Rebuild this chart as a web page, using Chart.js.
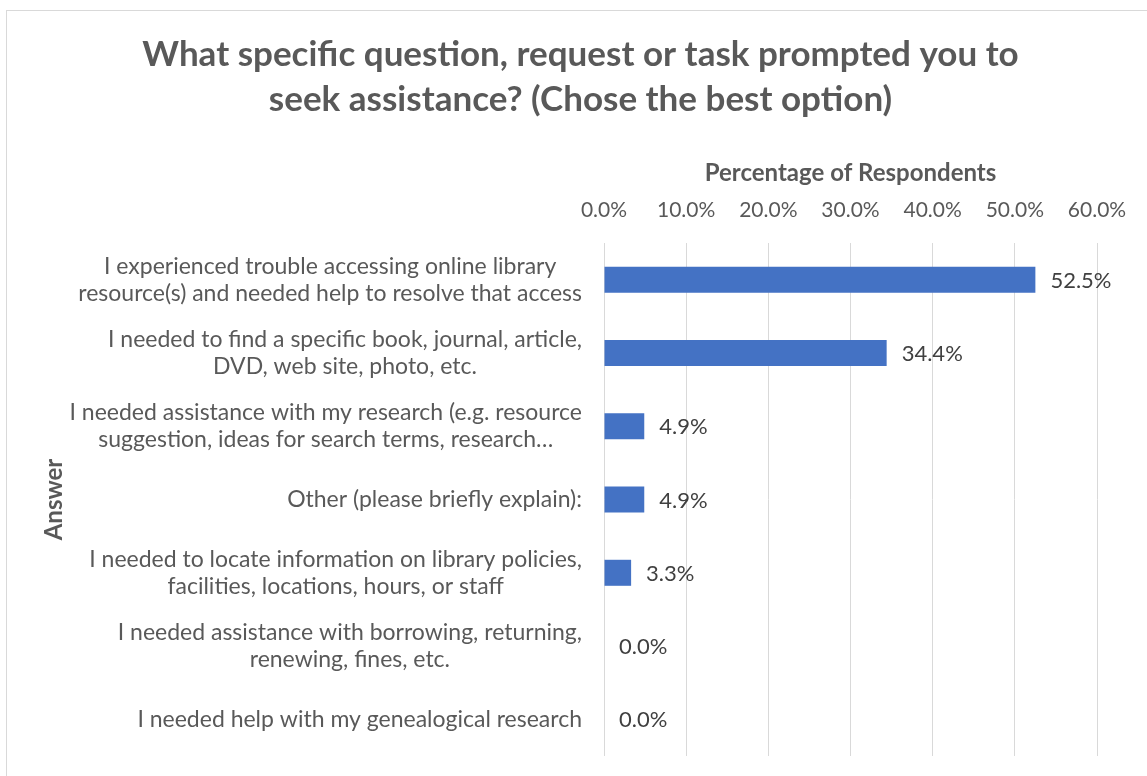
<!DOCTYPE html>
<html>
<head>
<meta charset="utf-8">
<title>Assistance survey</title>
<script src="https://cdn.jsdelivr.net/npm/chart.js@4.4.1/dist/chart.umd.min.js"></script>
<style>
  html, body { margin: 0; padding: 0; background: #fff; overflow: hidden; }
  #frame { position: absolute; left: 6px; top: 10px; width: 1147px; height: 780px; border: 1px solid #d9d9d9; }
  canvas { display: block; }
</style>
</head>
<body>
<div id="frame"><canvas id="chart" width="1147" height="780"></canvas></div>
<script>
// survey answers, top to bottom (multi-line labels)
const answers = [
  ["I experienced trouble accessing online library", "resource(s) and needed help to resolve that access"],
  ["I needed to find a specific book, journal, article,", "DVD, web site, photo, etc."],
  ["I needed assistance with my research (e.g. resource", "suggestion, ideas for search terms, research\u2026"],
  ["Other (please briefly explain):"],
  ["I needed to locate information on library policies,", "facilities, locations, hours, or staff"],
  ["I needed assistance with borrowing, returning,", "renewing, fines, etc."],
  ["I needed help with my genealogical research"]
];
// share of respondents (%)
const percentages = [52.5, 34.4, 4.9, 4.9, 3.3, 0.0, 0.0];
// x axis ticks (%)
const tickValues = [0, 10, 20, 30, 40, 50, 60];

const GREY = "#595959";
Chart.defaults.font.family = "Lato";

// category labels: lines centred within each block, blocks right-aligned
const answerLabels = {
  id: "answerLabels",
  afterDraw(chart) {
    const ctx = chart.ctx;
    const yScale = chart.scales.y;
    const right = chart.chartArea.left - 22;
    ctx.save();
    ctx.font = "23px Lato";
    ctx.fillStyle = GREY;
    ctx.textAlign = "center";
    ctx.textBaseline = "middle";
    answers.forEach((lines, i) => {
      const w = Math.max(...lines.map(l => ctx.measureText(l).width));
      const cx = right - w / 2;
      const cy = yScale.getPixelForTick(i);
      lines.forEach((l, j) => ctx.fillText(l, cx, cy + (j - (lines.length - 1) / 2) * 27));
    });
    ctx.restore();
  }
};

// value labels just past the end of each bar
const valueLabels = {
  id: "valueLabels",
  afterDatasetsDraw(chart) {
    const ctx = chart.ctx;
    const bars = chart.getDatasetMeta(0).data;
    ctx.save();
    ctx.font = "22px Lato";
    ctx.fillStyle = "#404040";
    ctx.textAlign = "left";
    ctx.textBaseline = "middle";
    bars.forEach((bar, i) => {
      ctx.fillText(percentages[i].toFixed(1) + "%", bar.x + 15, bar.y + 1);
    });
    ctx.restore();
  }
};

new Chart(document.getElementById("chart"), {
  type: "bar",
  data: {
    labels: answers,
    datasets: [{
      data: percentages,
      backgroundColor: "#4472C4",
      borderWidth: 0,
      categoryPercentage: 1,
      barPercentage: 0.355
    }]
  },
  options: {
    indexAxis: "y",
    responsive: false,
    animation: false,
    devicePixelRatio: 1,
    layout: { padding: { left: 0, right: 0, top: 0, bottom: 35 } },
    plugins: {
      legend: { display: false },
      tooltip: { enabled: false },
      title: {
        display: true,
        text: ["What specific question, request or task prompted you to", "seek assistance? (Chose the best option)"],
        color: GREY,
        font: { size: 35, weight: "bold", lineHeight: "45px" },
        padding: { top: 21, bottom: 19 }
      }
    },
    scales: {
      x: {
        position: "top",
        min: tickValues[0],
        max: tickValues[tickValues.length - 1],
        ticks: {
          stepSize: 10,
          padding: 20,
          color: GREY,
          font: { size: 21 },
          callback: v => v.toFixed(1) + "%"
        },
        grid: { color: "#d9d9d9", lineWidth: 1, drawTicks: false },
        border: { display: false },
        title: {
          display: true,
          text: "Percentage of Respondents",
          color: GREY,
          font: { size: 24, weight: "bold" },
          padding: { top: 18, bottom: 0 }
        },
        afterFit(scale) {
          scale.height = 102;
          scale.paddingRight = 57;
        }
      },
      y: {
        ticks: { display: false },
        grid: { display: false },
        border: { display: false },
        title: {
          display: true,
          text: "Answer",
          color: GREY,
          font: { size: 24, weight: "bold" },
          padding: { top: 33, bottom: 0 }
        },
        afterFit(scale) { scale.width = 597; }
      }
    }
  },
  plugins: [answerLabels, valueLabels]
});
</script>
</body>
</html>
